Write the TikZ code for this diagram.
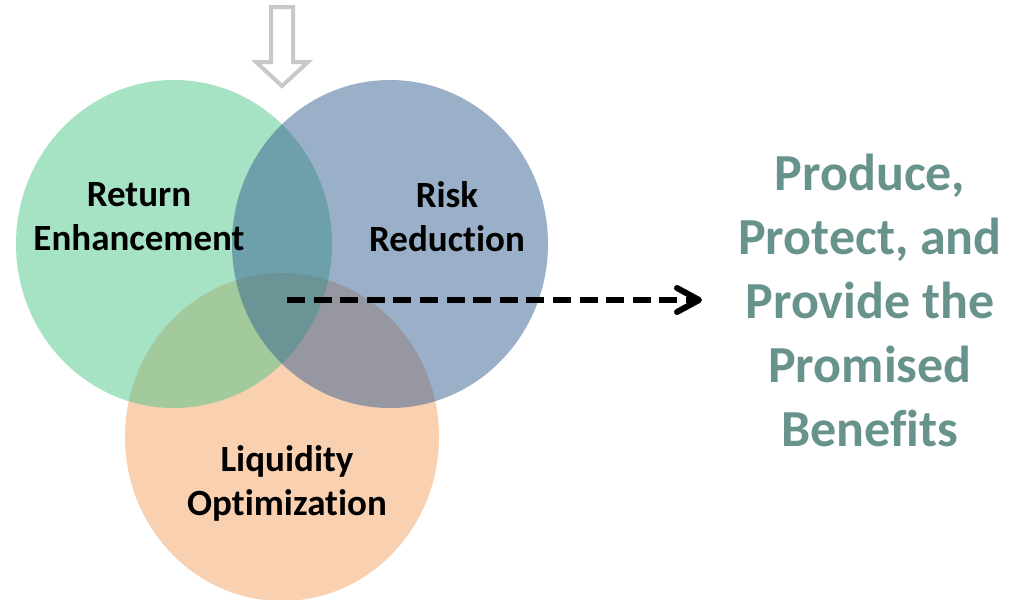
\documentclass[tikz,border=0pt]{standalone}
\usepackage{fontspec}
\setmainfont[Ligatures=NoCommon]{Carlito}
\usetikzlibrary{arrows.meta}
\definecolor{retgreen}{RGB}{77,197,137}
\definecolor{riskblue}{RGB}{53,95,145}
\definecolor{liqorange}{RGB}{243,161,97}
\definecolor{benefit}{RGB}{104,146,140}
\definecolor{feedgray}{RGB}{200,200,200}
\begin{document}
\begin{tikzpicture}[
	x=0.5pt, y=-0.5pt,
	every node/.style={align=center,
                       inner sep=0pt
                       },
	label/.style={font=\fontsize{18.5}{22}\selectfont\bfseries},
	goal/.style={font=\fontsize{26}{32}\selectfont\bfseries,
                 text=benefit
    },
	set/.style={fill opacity=0.5},
	feed/.style={draw=feedgray, line width=2pt, line join=miter},
	flow/.style={line width=3pt, dash pattern=on 9pt off 4.3pt,
                 -{Straight Barb[length=11pt,width=12pt,round]}
    }
]
	\useasboundingbox (0,0) rectangle (1019,600);
	% the three sets
	\fill[set, liqorange] (282,437) ellipse [x radius=157, y radius=164];
	\fill[set, retgreen] (174,244) ellipse [x radius=158, y radius=164];
	\fill[set, riskblue] (390,244) ellipse [x radius=158, y radius=164];
	\node (ret) [label] at (139,217) {Return\\Enhancement};
	\node (risk) [label] at (447,217) {Risk\\Reduction};
	\node (liq) [label] at (287,483) {Liquidity\\Optimization};
	\node (benefits) [goal] at (870,300) {Produce,\\Protect, and\\Provide the\\Promised\\Benefits};
	% input arrow
	\draw[feed] (271,7) -- (293,7) -- (293,62) -- (308,62) -- (282,86)
		-- (256,62) -- (271,62) -- cycle;
	\coordinate (core) at (287,300);
	\coordinate (target) at (702,300);
	\draw[flow] (core) -- (target);
\end{tikzpicture}
\end{document}
